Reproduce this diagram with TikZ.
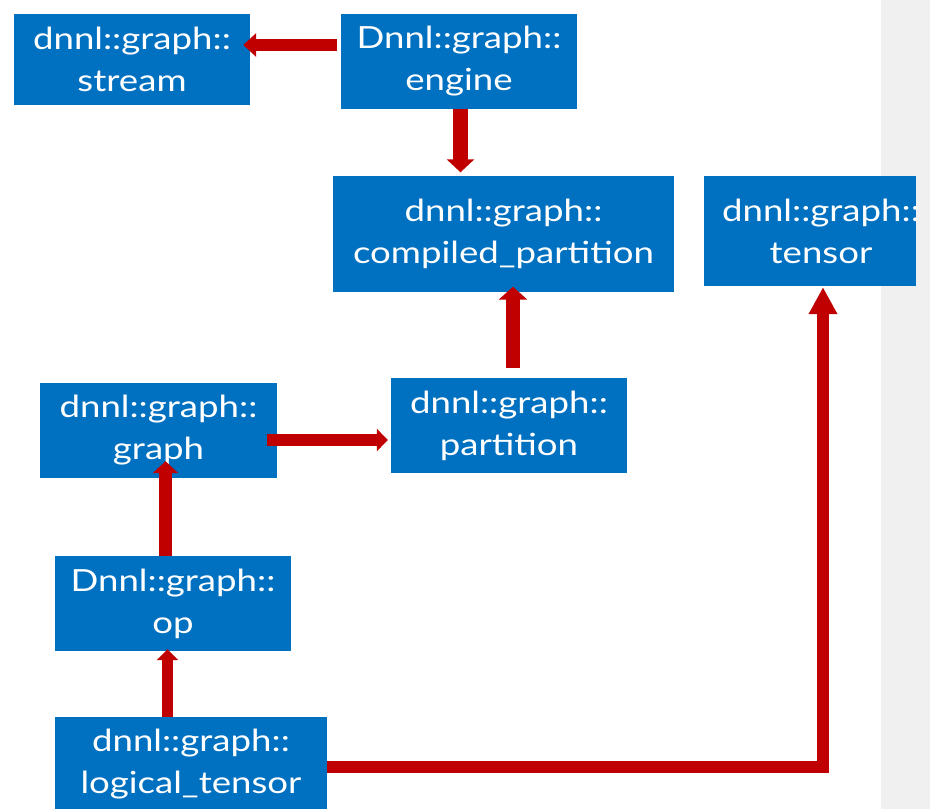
\documentclass[tikz,border=0pt]{standalone}
\usepackage{fontspec}
\setmainfont{Lato}[FakeStretch=1.2]
\usetikzlibrary{arrows.meta,calc}
\definecolor{boxblue}{HTML}{0070C0}
\definecolor{arrred}{HTML}{C00000}
\definecolor{stripgray}{HTML}{F0F0F0}
% a line of text nudged to the right inside a fixed-width box
\newcommand{\nudgedline}[1]{\makebox[190pt]{\hspace*{22pt}#1}}
\begin{document}
\begin{tikzpicture}[x=1pt,y=-1pt,
  classbox/.style={fill=boxblue,text=white,inner sep=0pt,align=center,
    font=\fontsize{30.5}{42}\selectfont},
  link/.style={draw=arrred,line width=#1},
  link/.default=13pt]
\useasboundingbox (0,0) rectangle (930,809);
\clip (0,0) rectangle (930,809);
\fill[white] (0,0) rectangle (930,809);
\fill[stripgray] (881,0) rectangle (930,809);

% class boxes
\node[classbox,minimum width=236pt,minimum height=91pt]  (stream)    at (132,59.5)  {dnnl::graph::\\stream};
\node[classbox,minimum width=236pt,minimum height=95pt]  (engine)    at (459,61.5)  {Dnnl::graph::\\engine};
\node[classbox,minimum width=341pt,minimum height=116pt] (compiled)  at (503.5,233.5) {dnnl::graph::\\compiled\_partition};
\node[classbox,minimum width=212pt,minimum height=110pt] (tensor)    at (810,231)   {\nudgedline{dnnl::graph::}\\\nudgedline{tensor}};
\node[classbox,minimum width=237pt,minimum height=95pt]  (graph)     at (158.5,430.5) {dnnl::graph::\\graph};
\node[classbox,minimum width=236pt,minimum height=95pt]  (partition) at (509,425.5) {dnnl::graph::\\partition};
\node[classbox,minimum width=236pt,minimum height=95pt]  (op)        at (173,603.5) {Dnnl::graph::\\op};
\node[classbox,minimum width=272pt,minimum height=94pt]  (logical)   at (191,764)   {dnnl::graph::\\logical\_tensor};

% connectors
\draw[link=12pt,-{Triangle[width=23pt,length=13pt]}]
  ($(engine.west)+(-4,-16.5)$) -- ($(stream.east)+(-7,-14.5)$);
\draw[link=15pt,-{Triangle[width=27pt,length=13pt]}]
  ($(engine.south)+(1.5,0)$) -- ($(compiled.north)+(-43,-3)$);
\draw[link=14pt,-{Triangle[width=28pt,length=13pt]}]
  ($(partition.north)+(4,-10)$) -- ($(compiled.south)+(9.5,-5)$);
\draw[link=12pt,-{Triangle[width=22pt,length=11pt]}]
  ($(graph.east)+(-10,9.5)$) -- ($(partition.west)+(-3,14.5)$);
\draw[link=13pt,-{Triangle[width=25pt,length=12pt]}]
  ($(op.north)+(-7.5,0)$) -- ($(graph.south)+(7,-17)$);
\draw[link=11pt,-{Triangle[width=21pt,length=11pt]}]
  ($(logical.north)+(-23.5,0)$) -- ($(op.south)+(-5.5,-2)$);
\draw[link=12pt,-{Triangle[width=27pt,length=27pt]}]
  ($(logical.east)+(0,3)$) -| ($(tensor.south)+(13,1)$);
\end{tikzpicture}
\end{document}
